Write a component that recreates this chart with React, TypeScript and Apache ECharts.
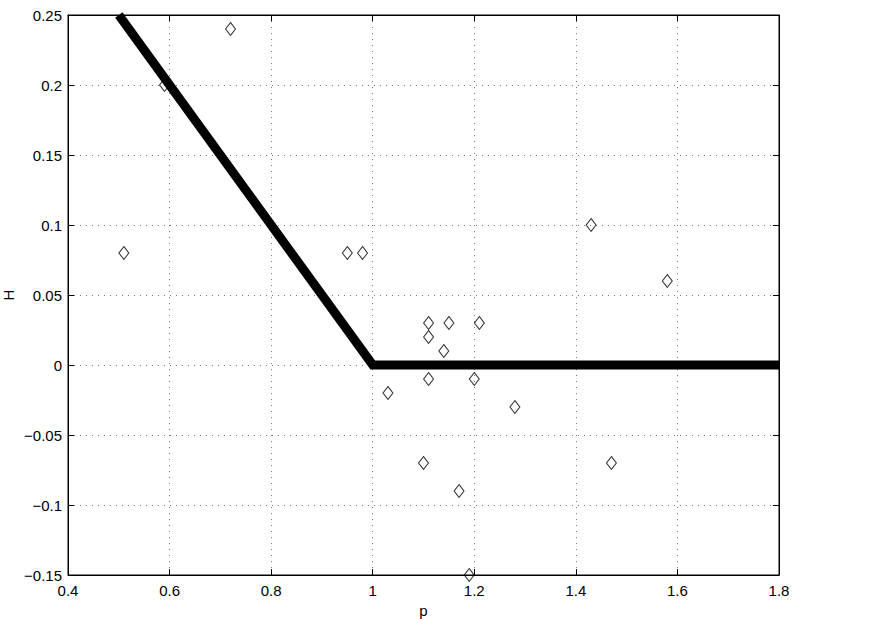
import React, { useEffect, useRef } from "react";
import * as echarts from "echarts";

const pValues = [0.51, 0.59, 0.72, 0.95, 0.98, 1.11, 1.11, 1.15, 1.14, 1.21, 1.03, 1.11, 1.2, 1.28, 1.1, 1.17, 1.19, 1.43, 1.47, 1.58];
const hValues = [0.08, 0.2, 0.24, 0.08, 0.08, 0.03, 0.02, 0.03, 0.01, 0.03, -0.02, -0.01, -0.01, -0.03, -0.07, -0.09, -0.15, 0.1, -0.07, 0.06];
const lineP = [0.5, 1.0, 1.8];
const lineH = [0.25, 0, 0];

const fmt = (v: number) => {
  const s = String(Math.round(v * 1000) / 1000);
  return s.startsWith("-") ? "\u2212" + s.slice(1) : s;
};

const font = { fontFamily: "Liberation Sans, Arial, sans-serif", fontSize: 15, color: "#000" };

export default function App() {
  const ref = useRef<HTMLDivElement>(null);
  useEffect(() => {
    const chart = echarts.init(ref.current!, null, { renderer: "svg" });
    const grid = { left: 68, top: 15, width: 711, height: 560 };
    const splitLine = { show: true, lineStyle: { color: "#777", type: [1, 5] as any, width: 1 } };
    const axisLine = { show: true, onZero: false, lineStyle: { color: "#000", width: 1 } };
    const axisTick = { show: true, inside: true, length: 6, lineStyle: { color: "#000" } };
    chart.setOption({
      animation: false,
      backgroundColor: "#fff",
      grid: {
        ...grid, containLabel: false, outerBoundsMode: "none",
        show: true, borderColor: "#000", borderWidth: 1, backgroundColor: "#fff",
      },
      xAxis: [
        {
          type: "value", min: 0.4, max: 1.8, interval: 0.2, position: "bottom",
          name: "p", nameLocation: "middle", nameGap: 28, nameTextStyle: font,
          axisLine, axisTick, splitLine,
          axisLabel: { ...font, margin: 8, formatter: fmt },
        },
        {
          type: "value", min: 0.4, max: 1.8, interval: 0.2, position: "top",
          axisLine, axisTick, splitLine: { show: false }, axisLabel: { show: false },
        },
      ],
      yAxis: [
        {
          type: "value", min: -0.15, max: 0.25, interval: 0.05, position: "left",
          name: "H", nameLocation: "middle", nameGap: 52, nameMoveOverlap: false, nameTextStyle: font,
          axisLine, axisTick, splitLine,
          axisLabel: { ...font, margin: 6, formatter: fmt },
        },
        {
          type: "value", min: -0.15, max: 0.25, interval: 0.05, position: "right",
          axisLine, axisTick, splitLine: { show: false }, axisLabel: { show: false },
        },
      ],
      series: [
        {
          type: "line",
          data: lineP.map((p, i) => [p, lineH[i]]),
          symbol: "none",
          lineStyle: { color: "#000", width: 9, cap: "butt", join: "miter" },
          clip: true,
          z: 3,
        },
        {
          type: "scatter",
          data: pValues.map((p, i) => [p, hValues[i]]),
          symbol: "diamond",
          symbolSize: [10, 13],
          itemStyle: { color: "rgba(255,255,255,0)", borderColor: "#000", borderWidth: 1 },
          clip: false,
          z: 4,
        },
      ],
    });
    return () => chart.dispose();
  }, []);
  return <div ref={ref} style={{ position: "fixed", left: 0, top: 0, width: 872, height: 619 }} />;
}
